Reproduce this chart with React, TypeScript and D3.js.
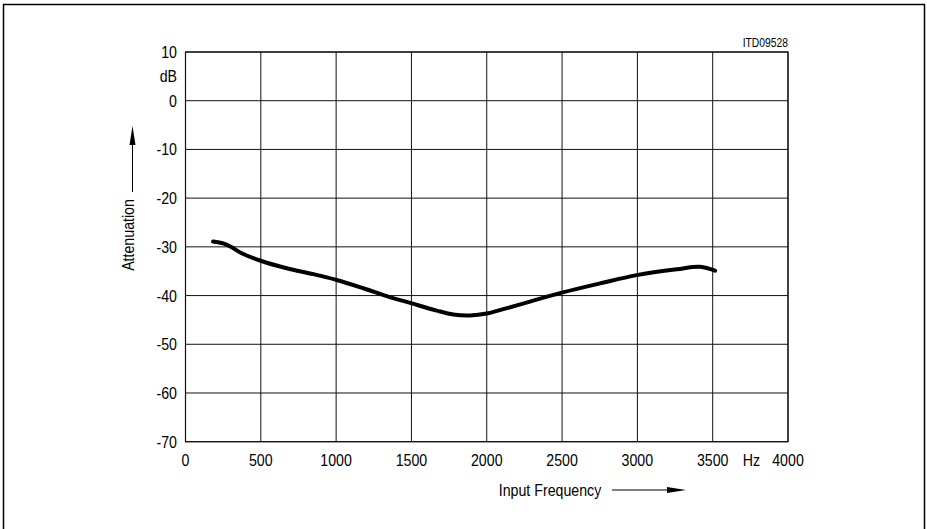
import React from "react";
import * as d3 from "d3";

const freqHz = [183, 251, 307, 373, 495, 672, 849, 1004, 1181, 1336, 1491, 1668, 1778, 1889, 2000, 2199, 2498, 2752, 2996, 3262, 3416, 3516];
const attenDb = [-28.9, -29.3, -30.1, -31.3, -32.8, -34.4, -35.6, -36.8, -38.5, -40.1, -41.5, -43.1, -43.9, -44.1, -43.7, -42.0, -39.4, -37.5, -35.8, -34.6, -34.1, -34.9];
const xTicks = [0, 500, 1000, 1500, 2000, 2500, 3000, 3500, 4000];
const yTicks = [10, 0, -10, -20, -30, -40, -50, -60, -70];

const FONT = "'Liberation Sans', Arial, sans-serif";
const SX = 0.86;

function T({ x, y, anchor = "middle", size = 16.5, rotate = 0, children }: any) {
  return (
    <text
      transform={`translate(${x},${y}) rotate(${rotate}) scale(${SX},1)`}
      textAnchor={anchor}
      fontFamily={FONT}
      fontSize={size}
      fill="#000"
    >
      {children}
    </text>
  );
}

export default function App() {
  const x = d3.scaleLinear().domain([0, 4000]).range([185.5, 788]);
  const y = d3.scaleLinear().domain([10, -70]).range([52, 441.7]);
  const pts = freqHz.map((f, i) => [f, attenDb[i]] as [number, number]);
  const line = d3.line<[number, number]>().x(d => x(d[0])).y(d => y(d[1])).curve(d3.curveCatmullRom.alpha(0.5));
  const x0 = x(0), x1 = x(4000), y0 = y(10), y1 = y(-70);
  return (
    <svg width={927} height={529} style={{ position: "absolute", left: 0, top: 0, background: "#fff" }}>
      <rect x={0} y={0} width={927} height={529} fill="#fff" />
      {/* outer frame */}
      <path d="M3.5,529 L3.5,4.5 L924.5,4.5 L924.5,529" fill="none" stroke="#000" strokeWidth={1.5} />
      {/* grid */}
      {xTicks.map(t => (
        <line key={"gx" + t} x1={x(t)} x2={x(t)} y1={y0} y2={y1} stroke="#111" strokeWidth={1} />
      ))}
      {yTicks.map(t => (
        <line key={"gy" + t} x1={x0} x2={x1} y1={y(t)} y2={y(t)} stroke="#111" strokeWidth={1} />
      ))}
      <rect x={x0} y={y0} width={x1 - x0} height={y1 - y0} fill="none" stroke="#111" strokeWidth={1.2} />
      {/* curve */}
      <path d={line(pts) || ""} fill="none" stroke="#000" strokeWidth={4} strokeLinecap="round" strokeLinejoin="round" />
      {/* y tick labels */}
      {yTicks.map(t => (
        <T key={"ly" + t} x={177} y={y(t) + 6} anchor="end">{t}</T>
      ))}
      <T x={177} y={y(5) + 6} anchor="end">dB</T>
      {/* x tick labels */}
      {xTicks.map(t => (
        <T key={"lx" + t} x={x(t)} y={465.5}>{t}</T>
      ))}
      <T x={751.5} y={465.5}>Hz</T>
      {/* axis titles */}
      <T x={550} y={496}>Input Frequency</T>
      <line x1={612} x2={672} y1={490} y2={490} stroke="#000" strokeWidth={1} />
      <path d="M667,487 L686,490 L667,493 Z" fill="#000" />
      <T x={134} y={235} rotate={-90}>Attenuation</T>
      <line x1={132.5} x2={132.5} y1={192} y2={140} stroke="#000" strokeWidth={1} />
      <path d="M129.5,145 L132.5,126 L135.5,145 Z" fill="#000" />
      <T x={788} y={47} anchor="end" size={12}>ITD09528</T>
    </svg>
  );
}
